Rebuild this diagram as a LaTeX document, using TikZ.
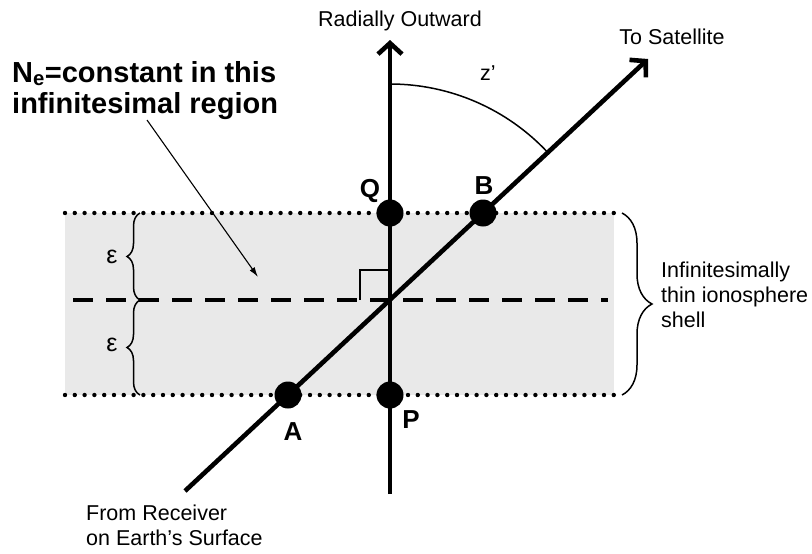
\documentclass[tikz,border=0pt]{standalone}
\usepackage{fontspec}
\setmainfont{Liberation Sans}
\usetikzlibrary{arrows.meta,decorations.pathreplacing}
\definecolor{shell}{RGB}{233,233,233}
\begin{document}
\begin{tikzpicture}[x=1pt,y=1pt,
  mainline/.style={line width=4.6pt},
  dotline/.style={line width=4.4pt,line cap=round,dash pattern=on 0pt off 9.8pt},
  dashline/.style={line width=4.6pt,dash pattern=on 20pt off 13pt},
  dotmark/.style={circle,fill=black,inner sep=0pt,minimum size=27pt},
  ptlabel/.style={font=\fontsize{26}{30}\selectfont\bfseries,inner sep=0pt,anchor=base},
  txt/.style={font=\fontsize{21.5}{25}\selectfont,inner sep=0pt},
  thin/.style={line width=1.5pt},
  bracestyle/.style={line width=1.5pt,decorate}]
\useasboundingbox (0,0) rectangle (812,-554);
% shell region
\fill[shell] (65,-213) rectangle (614,-395);
\draw[dotline] (65,-213) -- (614,-213);
\draw[dotline] (65,-395) -- (614,-395);
\draw[dashline] (73,-300) -- (608,-300);
% coordinates
\coordinate (O) at (390,-300);
\coordinate (top) at (390,-40);
\coordinate (bot) at (390,-494);
\coordinate (rx) at (185,-491);
\coordinate (sat) at (648,-59);
% right angle mark
\draw[thin] (360,-300) -- (360,-270) -- (390,-270);
% z' arc
\draw[thin] (390,-84) arc[start angle=90,end angle=43,radius=216];
% main lines
\draw[mainline,-{Straight Barb[length=11pt,width=24pt]}] (bot) -- (top);
\draw[mainline,-{Straight Barb[length=11pt,width=24pt]}] (rx) -- (sat);
% points
\node[dotmark] (Q) at (390,-213) {};
\node[dotmark] (B) at (483,-213) {};
\node[dotmark] (A) at (288,-395) {};
\node[dotmark] (P) at (390,-395) {};
% point labels
\node[ptlabel] (Ql) at (370,-197) {Q};
\node[ptlabel] (Bl) at (484,-194) {B};
\node[ptlabel] (Al) at (293,-440) {A};
\node[ptlabel] (Pl) at (411,-428) {P};
% braces
\draw[bracestyle,decoration={brace,amplitude=13pt}] (140,-300) -- (140,-213);
\draw[bracestyle,decoration={brace,amplitude=13pt}] (140,-395) -- (140,-300);
\draw[bracestyle,decoration={brace,amplitude=30pt}] (622,-213) -- (622,-395);
\node[txt,font=\fontsize{25}{28}\selectfont,anchor=center] (e1) at (112,-257) {ε};
\node[txt,font=\fontsize{25}{28}\selectfont,anchor=center] (e2) at (112,-345) {ε};
% texts
\node[txt,anchor=base] (rad) at (400,-27) {Radially Outward};
\node[txt,anchor=base] (satl) at (672,-45) {To Satellite};
\node[txt,anchor=base] (zl) at (488,-80) {z’};
\node[txt,anchor=base west] (s1) at (661,-277) {Infinitesimally};
\node[txt,anchor=base west] (s2) at (661,-302) {thin ionosphere};
\node[txt,anchor=base west] (s3) at (661,-327) {shell};
\node[txt,anchor=base west] (r1) at (86,-520) {From Receiver};
\node[txt,anchor=base west] (r2) at (86,-545) {on Earth’s Surface};
\node[font=\fontsize{29}{32}\selectfont\bfseries,inner sep=0pt,anchor=base west] (t1) at (12,-82) {N\textsubscript{e}=constant in this};
\node[font=\fontsize{29}{32}\selectfont\bfseries,inner sep=0pt,anchor=base west] (t2) at (12,-113) {infinitesimal region};
\coordinate (pt) at (258,-277);
\draw[line width=1.1pt,-{Latex[length=10pt,width=6pt]}] (147,-120) -- (pt);
\end{tikzpicture}
\end{document}
